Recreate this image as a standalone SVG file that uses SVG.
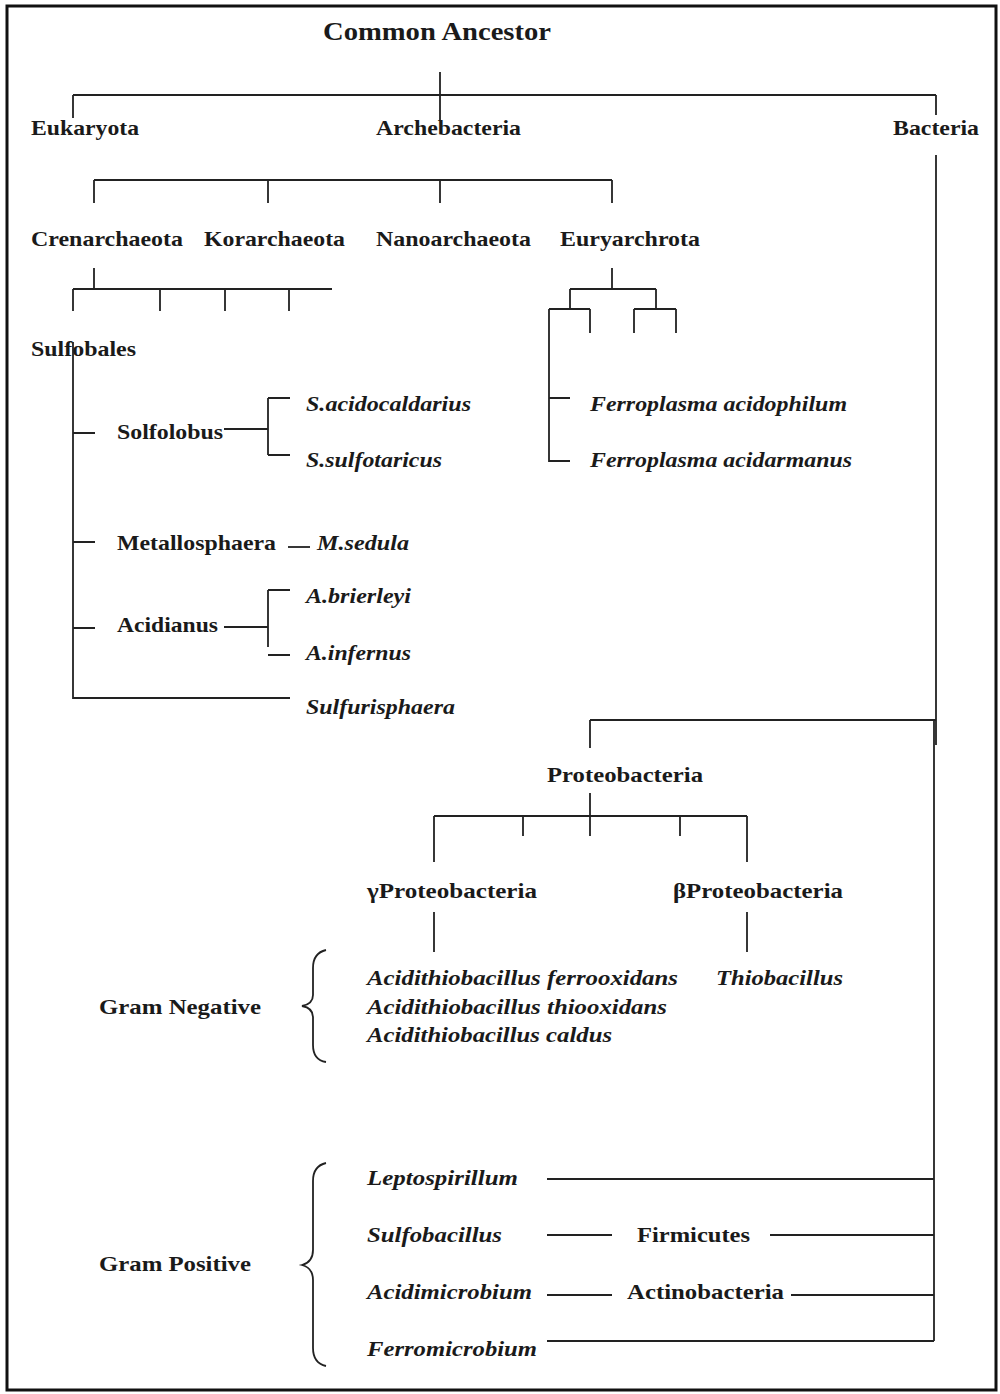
<svg xmlns="http://www.w3.org/2000/svg" width="1000" height="1394" viewBox="0 0 1000 1394">
<style>
.t{font-family:"Liberation Serif","Times New Roman",serif;font-weight:bold;font-size:22px;fill:#1a1a1a}
.i{font-style:italic}
.big{font-size:25px}
.ln{stroke:#222;stroke-width:1.8;fill:none}
</style>
<rect x="7" y="6" width="989" height="1384" fill="#fff" stroke="#111" stroke-width="3"/>
<g id="connectors" class="ln">
<path d="M440 72V120M73 95H936M73 95V118M936 95V115"/>
<path d="M94 180H612M94 180V203M268 180V203M440 180V203M612 180V203"/>
<path d="M94 268V289M73 289H332M73 289V311M160 289V311M225 289V311M289 289V311"/>
<path d="M73 342V698H290M73 433H95M73 542H95M73 628H95"/>
<path d="M224 429H268M268 398V455M268 398H290M268 455H290"/>
<path d="M288 547H310"/>
<path d="M224 627H268M268 590V647M268 590H290M268 655H290"/>
<path d="M612 268V289M570 289H656M570 289V309M656 289V309"/>
<path d="M549 309H590M590 309V333M549 309V461H570M549 398H570"/>
<path d="M634 309H676M634 309V333M676 309V333"/>
<path d="M936 155V745M590 720H936M590 720V748"/>
<path d="M590 793V836M434 816H747M434 816V862M523 816V836M680 816V836M747 816V862"/>
<path d="M434 912V952M747 912V952"/>
<path d="M934 720V1341M547 1179H934M547 1235H612M770 1235H934M547 1295H612M791 1295H934M547 1341H934"/>
<path d="M326 950Q313 953 313 968V995Q313 1004 302 1006Q313 1008 313 1017V1045Q313 1060 326 1062"/>
<path d="M326 1163Q313 1166 313 1181V1250Q313 1262 302 1265Q313 1268 313 1280V1348Q313 1363 326 1366"/>
</g>
<g id="n-common"><text class="t big" x="323" y="40" textLength="228" lengthAdjust="spacingAndGlyphs">Common Ancestor</text></g>
<g id="n-eukaryota"><text class="t" x="31" y="135" textLength="108" lengthAdjust="spacingAndGlyphs">Eukaryota</text></g>
<g id="n-archebacteria"><text class="t" x="376" y="135" textLength="145" lengthAdjust="spacingAndGlyphs">Archebacteria</text></g>
<g id="n-bacteria"><text class="t" x="893" y="135" textLength="86" lengthAdjust="spacingAndGlyphs">Bacteria</text></g>
<g id="n-crenarchaeota"><text class="t" x="31" y="246" textLength="152" lengthAdjust="spacingAndGlyphs">Crenarchaeota</text></g>
<g id="n-korarchaeota"><text class="t" x="204" y="246" textLength="141" lengthAdjust="spacingAndGlyphs">Korarchaeota</text></g>
<g id="n-nanoarchaeota"><text class="t" x="376" y="246" textLength="155" lengthAdjust="spacingAndGlyphs">Nanoarchaeota</text></g>
<g id="n-euryarchrota"><text class="t" x="560" y="246" textLength="140" lengthAdjust="spacingAndGlyphs">Euryarchrota</text></g>
<g id="n-sulfobales"><text class="t" x="31" y="356" textLength="105" lengthAdjust="spacingAndGlyphs">Sulfobales</text></g>
<g id="n-solfolobus"><text class="t" x="117" y="439" textLength="106" lengthAdjust="spacingAndGlyphs">Solfolobus</text></g>
<g id="n-sacido"><text class="t i" x="306" y="411" textLength="165" lengthAdjust="spacingAndGlyphs">S.acidocaldarius</text></g>
<g id="n-ssulfo"><text class="t i" x="306" y="467" textLength="136" lengthAdjust="spacingAndGlyphs">S.sulfotaricus</text></g>
<g id="n-metallosphaera"><text class="t" x="117" y="550" textLength="159" lengthAdjust="spacingAndGlyphs">Metallosphaera</text></g>
<g id="n-msedula"><text class="t i" x="317" y="550" textLength="92" lengthAdjust="spacingAndGlyphs">M.sedula</text></g>
<g id="n-acidianus"><text class="t" x="117" y="632" textLength="101" lengthAdjust="spacingAndGlyphs">Acidianus</text></g>
<g id="n-abrierleyi"><text class="t i" x="306" y="603" textLength="105" lengthAdjust="spacingAndGlyphs">A.brierleyi</text></g>
<g id="n-ainfernus"><text class="t i" x="306" y="660" textLength="105" lengthAdjust="spacingAndGlyphs">A.infernus</text></g>
<g id="n-sulfurisphaera"><text class="t i" x="306" y="714" textLength="149" lengthAdjust="spacingAndGlyphs">Sulfurisphaera</text></g>
<g id="n-facidophilum"><text class="t i" x="590" y="411" textLength="257" lengthAdjust="spacingAndGlyphs">Ferroplasma acidophilum</text></g>
<g id="n-facidarmanus"><text class="t i" x="590" y="467" textLength="262" lengthAdjust="spacingAndGlyphs">Ferroplasma acidarmanus</text></g>
<g id="n-proteobacteria"><text class="t" x="547" y="782" textLength="156" lengthAdjust="spacingAndGlyphs">Proteobacteria</text></g>
<g id="n-gamma"><text class="t" x="367" y="898" textLength="170" lengthAdjust="spacingAndGlyphs">γProteobacteria</text></g>
<g id="n-beta"><text class="t" x="673" y="898" textLength="170" lengthAdjust="spacingAndGlyphs">βProteobacteria</text></g>
<g id="n-gramneg"><text class="t" x="99" y="1014" textLength="162" lengthAdjust="spacingAndGlyphs">Gram Negative</text></g>
<g id="n-aferro"><text class="t i" x="367" y="985" textLength="311" lengthAdjust="spacingAndGlyphs">Acidithiobacillus ferrooxidans</text></g>
<g id="n-athio"><text class="t i" x="367" y="1014" textLength="300" lengthAdjust="spacingAndGlyphs">Acidithiobacillus thiooxidans</text></g>
<g id="n-acaldus"><text class="t i" x="367" y="1042" textLength="245" lengthAdjust="spacingAndGlyphs">Acidithiobacillus caldus</text></g>
<g id="n-thiobacillus"><text class="t i" x="716" y="985" textLength="127" lengthAdjust="spacingAndGlyphs">Thiobacillus</text></g>
<g id="n-grampos"><text class="t" x="99" y="1271" textLength="152" lengthAdjust="spacingAndGlyphs">Gram Positive</text></g>
<g id="n-leptospirillum"><text class="t i" x="367" y="1185" textLength="151" lengthAdjust="spacingAndGlyphs">Leptospirillum</text></g>
<g id="n-sulfobacillus"><text class="t i" x="367" y="1242" textLength="135" lengthAdjust="spacingAndGlyphs">Sulfobacillus</text></g>
<g id="n-firmicutes"><text class="t" x="637" y="1242" textLength="113" lengthAdjust="spacingAndGlyphs">Firmicutes</text></g>
<g id="n-acidimicrobium"><text class="t i" x="367" y="1299" textLength="165" lengthAdjust="spacingAndGlyphs">Acidimicrobium</text></g>
<g id="n-actinobacteria"><text class="t" x="627" y="1299" textLength="157" lengthAdjust="spacingAndGlyphs">Actinobacteria</text></g>
<g id="n-ferromicrobium"><text class="t i" x="367" y="1356" textLength="170" lengthAdjust="spacingAndGlyphs">Ferromicrobium</text></g>
</svg>
